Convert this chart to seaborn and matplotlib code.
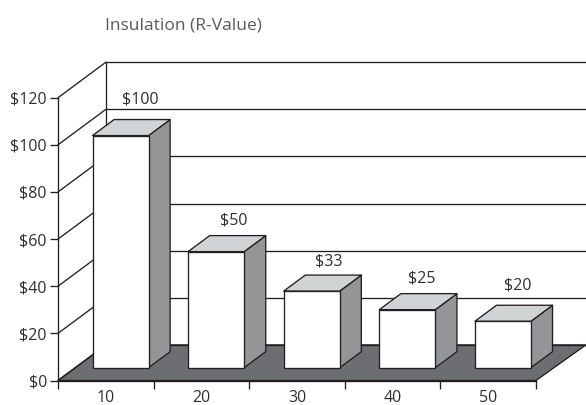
import matplotlib
matplotlib.use("Agg")
import matplotlib.pyplot as plt
from matplotlib.patches import Polygon
from matplotlib.ticker import FixedLocator, FixedFormatter, NullFormatter
import numpy as np
import seaborn as sns

categories = ["10", "20", "30", "40", "50"]
costs = [100, 50, 33, 25, 20]
value_labels = ["$100", "$50", "$33", "$25", "$20"]
y_ticks = [0, 20, 40, 60, 80, 100, 120]
y_tick_labels = ["$0", "$20", "$40", "$60", "$80", "$100", "$120"]
title = "Insulation (R-Value)"

INK = "#231f20"
TEXT = "#2f2f31"
FLOOR = "#6d6e71"
SIDE = "#939598"
TOP = "#d1d3d4"

# Oblique projection: how far the back wall sits from the front plane, in data units.
WALL_DX, WALL_DY = 0.502, 15.1
# Depth range of each box within the floor, and its slight foreshortening.
BOX_NEAR, BOX_FAR = 0.36, 0.81
FORESHORTEN = 0.985
BAR_SHIFT = 0.154
BAR_WIDTH = 0.586
# Per-label placement relative to the back edge of each box top.
LABEL_LIFT = [8.3, 6.6, 5.6, 6.6, 8.2]
LABEL_SHIFT = [-0.02, -0.04, -0.05, -0.08, -0.07]
LW = 0.95
FONT_SIZE = 11.5

sns.set_theme(style="white", rc={"font.family": ["Open Sans", "DejaVu Sans"]})
fig = plt.figure(figsize=(5.86, 4.05), dpi=100, facecolor="white")
ax = fig.add_axes([58 / 586, (405 - 380.5) / 405, (536 - 58) / 586, (380.5 - 97.7) / 405])
ax.set_facecolor("none")

positions = np.arange(len(costs)) + BAR_SHIFT
heights = np.array(costs, dtype=float) * FORESHORTEN
base = BOX_NEAR * WALL_DY

# Box fronts go through seaborn; the top and side faces extend from the bars it draws.
sns.barplot(x=positions, y=heights, native_scale=True, width=BAR_WIDTH,
            bottom=base, color="white", saturation=1, edgecolor=INK,
            linewidth=LW, ax=ax, zorder=5)

ax.set_xlim(-0.5, 4.5)
ax.set_ylim(0, 120)

x0, x1 = -0.5, 4.5
# Floor
ax.add_patch(Polygon([(x0, 0), (x1, 0), (x1 + WALL_DX + 0.02, WALL_DY), (x0 + WALL_DX, WALL_DY)],
                     closed=True, facecolor=FLOOR, edgecolor=INK, linewidth=LW,
                     clip_on=False, zorder=1))
# Gridlines across the back wall and side wall
for t in y_ticks:
    ax.plot([x0, x0 + WALL_DX], [t, t + WALL_DY], color=INK, lw=LW, clip_on=False, zorder=2)
    ax.plot([x0 + WALL_DX, x1 + WALL_DX + 0.02], [t + WALL_DY] * 2, color=INK, lw=LW,
            clip_on=False, zorder=2)
ax.plot([x0 + WALL_DX] * 2, [WALL_DY, 120 + WALL_DY], color=INK, lw=LW, clip_on=False, zorder=2)

# Box depth faces and value labels
bar_depth_x = (BOX_FAR - BOX_NEAR) * WALL_DX
bar_depth_y = (BOX_FAR - BOX_NEAR) * WALL_DY
for bar, text, lift, shift in zip(ax.patches[:len(costs)], value_labels, LABEL_LIFT, LABEL_SHIFT):
    left, right = bar.get_x(), bar.get_x() + bar.get_width()
    low, high = bar.get_y(), bar.get_y() + bar.get_height()
    ax.add_patch(Polygon([(right, low), (right + bar_depth_x, low + bar_depth_y),
                          (right + bar_depth_x, high + bar_depth_y), (right, high)],
                         closed=True, facecolor=SIDE, edgecolor=INK, linewidth=LW,
                         joinstyle="round", clip_on=False, zorder=4))
    ax.add_patch(Polygon([(left, high), (right, high), (right + bar_depth_x, high + bar_depth_y),
                          (left + bar_depth_x, high + bar_depth_y)],
                         closed=True, facecolor=TOP, edgecolor=INK, linewidth=LW,
                         joinstyle="round", clip_on=False, zorder=4))
    ax.text((left + right) / 2 + bar_depth_x + shift, high + bar_depth_y + lift, text,
            ha="center", va="center", fontsize=FONT_SIZE, color=TEXT, zorder=6)

# Axes
for side in ("top", "right"):
    ax.spines[side].set_visible(False)
for side in ("left", "bottom"):
    ax.spines[side].set_color(INK)
    ax.spines[side].set_linewidth(LW)
    ax.spines[side].set_zorder(6)

ax.set_yticks(y_ticks)
ax.set_yticklabels(y_tick_labels)
ax.xaxis.set_major_locator(FixedLocator(np.arange(-0.5, 5.0, 1.0)))
ax.xaxis.set_major_formatter(NullFormatter())
ax.xaxis.set_minor_locator(FixedLocator(np.arange(len(categories))))
ax.xaxis.set_minor_formatter(FixedFormatter(categories))
ax.tick_params(axis="y", which="major", left=True, length=6, width=LW, color=INK,
               labelsize=FONT_SIZE, labelcolor=TEXT, pad=2)
ax.tick_params(axis="x", which="major", bottom=True, length=6, width=LW, color=INK)
ax.tick_params(axis="x", which="minor", bottom=False, labelsize=FONT_SIZE, labelcolor=TEXT, pad=2.5)
ax.set_xlabel("")
ax.set_ylabel("")

fig.text(105 / 586, 1 - 25.5 / 405, title, ha="left", va="center", fontsize=12.5, color="#58595b")

fig.savefig("out.png", dpi=100)
